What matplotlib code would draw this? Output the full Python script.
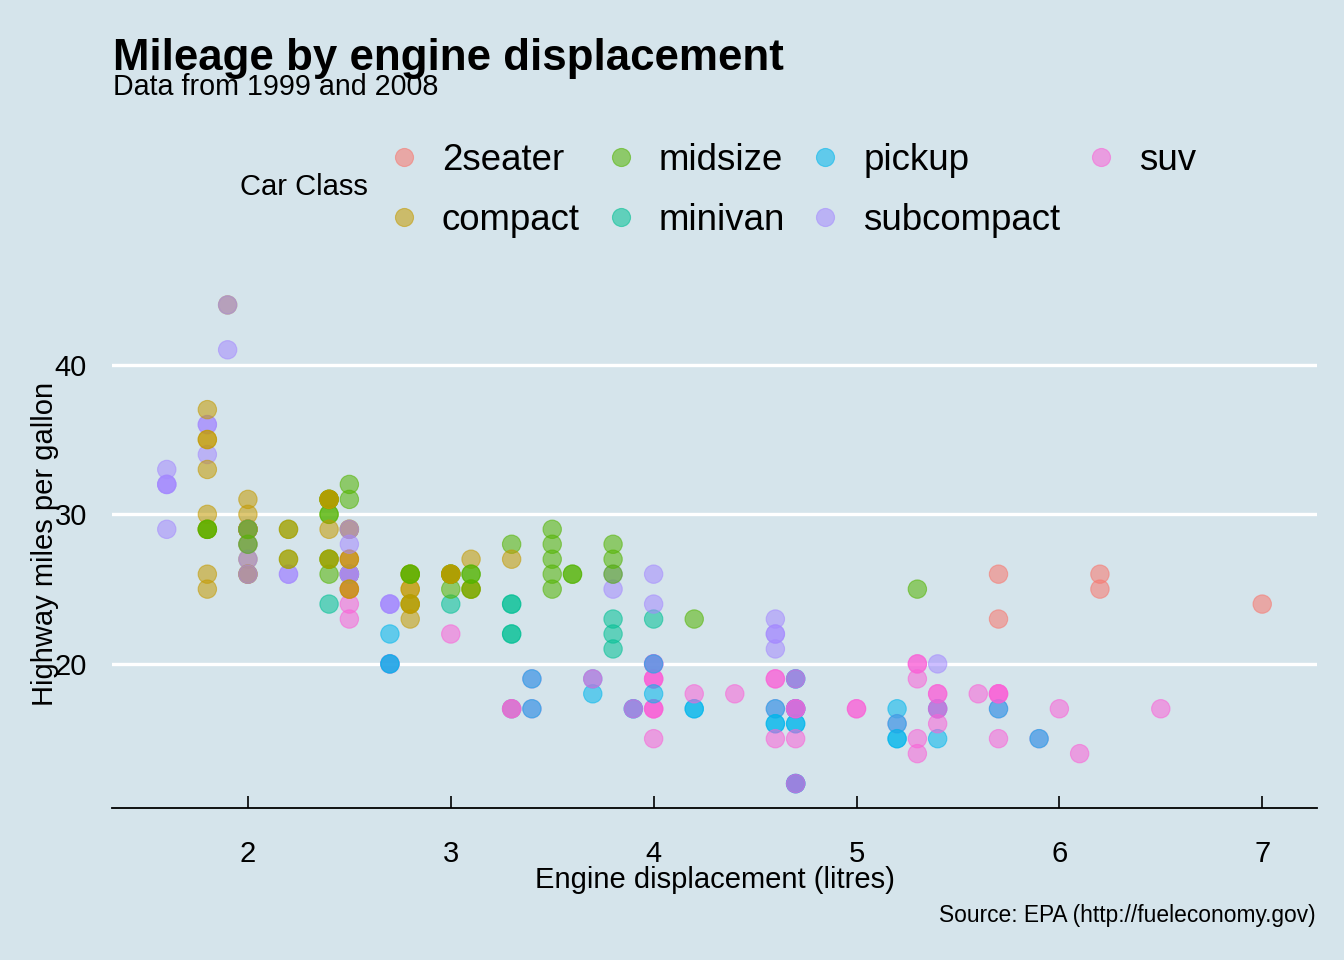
import numpy as np
import matplotlib
matplotlib.use('Agg')
import matplotlib.pyplot as plt
from matplotlib.lines import Line2D

plt.rcParams['font.family'] = ['Liberation Sans', 'DejaVu Sans']

## mpg data (displ, hwy, class), in row order
displ = [1.8, 1.8, 2.0, 2.0, 2.8, 2.8, 3.1, 1.8, 1.8, 2.0, 2.0, 2.8, 2.8, 3.1, 3.1,
         2.8, 3.1, 4.2,
         5.3, 5.3, 5.3, 5.7, 6.0,
         5.7, 5.7, 6.2, 6.2, 7.0,
         5.3, 5.3, 5.7, 6.5,
         2.4, 2.4, 3.1, 3.5, 3.6,
         2.4, 3.0, 3.3, 3.3, 3.3, 3.3, 3.3, 3.8, 3.8, 3.8, 4.0,
         3.7, 3.7, 3.9, 3.9, 4.7, 4.7, 4.7, 5.2, 5.2,
         3.9, 4.7, 4.7, 4.7, 5.2, 5.7, 5.9,
         4.7, 4.7, 4.7, 4.7, 4.7, 4.7, 5.2, 5.2, 5.7, 5.9,
         4.6, 5.4, 5.4, 4.0, 4.0, 4.0, 4.0, 4.6, 5.0,
         4.2, 4.2, 4.6, 4.6, 4.6, 5.4, 5.4,
         3.8, 3.8, 4.0, 4.0, 4.6, 4.6, 4.6, 4.6, 5.4, 1.6, 1.6, 1.6, 1.6, 1.6, 1.8, 1.8, 1.8, 2.0,
         2.4, 2.4, 2.4, 2.4, 2.5, 2.5, 3.3,
         2.0, 2.0, 2.0, 2.0, 2.7, 2.7, 2.7,
         3.0, 3.7, 4.0, 4.7, 4.7, 4.7, 5.7, 6.1, 4.0, 4.2, 4.4, 4.6, 5.4, 5.4, 5.4, 4.0, 4.0, 4.6, 5.0,
         2.4, 2.4,
         2.5, 2.5, 3.5, 3.5, 3.0, 3.0, 3.5,
         3.3, 3.3, 4.0, 5.6,
         3.1, 3.8, 3.8, 3.8, 5.3,
         2.5, 2.5, 2.5, 2.5, 2.5, 2.5,
         2.2, 2.2, 2.5, 2.5,
         2.5, 2.5, 2.5, 2.5,
         2.7, 2.7, 3.4, 3.4, 4.0, 4.7,
         2.2, 2.2, 2.4, 2.4, 3.0, 3.0, 3.5,
         2.2, 2.2, 2.4, 2.4, 3.0, 3.0, 3.3, 1.8, 1.8, 1.8, 1.8, 1.8,
         4.7, 5.7,
         2.7, 2.7, 2.7, 3.4, 3.4, 4.0, 4.0,
         2.0, 2.0, 2.0, 2.0, 2.8, 1.9, 2.0, 2.0, 2.0, 2.0, 2.5, 2.5, 2.8, 2.8,
         1.9, 1.9, 2.0, 2.0, 2.5, 2.5,
         1.8, 1.8, 2.0, 2.0, 2.8, 2.8, 3.6]

hwy = [29, 29, 31, 30, 26, 26, 27, 26, 25, 28, 27, 25, 25, 25, 25,
       24, 25, 23,
       20, 15, 20, 17, 17,
       26, 23, 26, 25, 24,
       19, 14, 15, 17,
       27, 30, 26, 29, 26,
       24, 24, 22, 22, 24, 24, 17, 22, 21, 23, 23,
       19, 18, 17, 17, 19, 19, 12, 17, 15,
       17, 17, 12, 17, 16, 18, 15,
       16, 12, 17, 17, 16, 12, 15, 16, 17, 15,
       17, 17, 18, 17, 19, 17, 19, 19, 17,
       17, 17, 16, 16, 17, 15, 17,
       26, 25, 26, 24, 21, 22, 23, 22, 20, 33, 32, 32, 29, 32, 34, 36, 36, 29,
       26, 27, 30, 31, 26, 26, 28,
       26, 29, 28, 27, 24, 24, 24,
       22, 19, 20, 17, 12, 19, 18, 14, 15, 18, 18, 15, 17, 16, 18, 17, 19, 19, 17,
       29, 27,
       31, 32, 27, 26, 26, 25, 25,
       17, 17, 20, 18,
       26, 26, 27, 28, 25,
       25, 24, 27, 25, 26, 23,
       26, 26, 26, 26,
       25, 27, 25, 27,
       20, 20, 19, 17, 20, 17,
       29, 27, 31, 31, 26, 26, 28,
       27, 29, 31, 31, 26, 26, 27, 30, 33, 35, 37, 35,
       15, 18,
       20, 20, 22, 17, 19, 18, 20,
       29, 26, 29, 29, 24, 44, 29, 26, 29, 29, 29, 29, 23, 24,
       44, 41, 29, 26, 28, 29,
       29, 29, 28, 29, 26, 26, 26]

car_class = (['compact'] * 15 + ['midsize'] * 3 + ['suv'] * 5 + ['2seater'] * 5
             + ['suv'] * 4 + ['midsize'] * 5 + ['minivan'] * 11 + ['pickup'] * 9
             + ['suv'] * 7 + ['pickup'] * 10 + ['suv'] * 9 + ['pickup'] * 7
             + ['subcompact'] * 18 + ['midsize'] * 7 + ['subcompact'] * 7
             + ['suv'] * 19 + ['compact'] * 2 + ['midsize'] * 7 + ['suv'] * 4
             + ['midsize'] * 5 + ['suv'] * 6 + ['subcompact'] * 4 + ['compact'] * 4
             + ['suv'] * 6 + ['midsize'] * 7 + ['compact'] * 12 + ['suv'] * 2
             + ['pickup'] * 7 + ['compact'] * 14 + ['subcompact'] * 6 + ['midsize'] * 7)

classes = ['2seater', 'compact', 'midsize', 'minivan', 'pickup', 'subcompact', 'suv']
palette = ['#F8766D', '#C49A00', '#53B400', '#00C094', '#00B6EB', '#A58AFF', '#FB61D7']
col_of = dict(zip(classes, palette))

x_ticks = [2, 3, 4, 5, 6, 7]
y_ticks = [20, 30, 40]

bg = '#d5e4eb'
alpha = 0.55

fig = plt.figure(figsize=(13.44, 9.6), dpi=100, facecolor=bg)
ax = fig.add_axes([112 / 1344, 1 - 807.5 / 960, 1205 / 1344, 526.5 / 960])
ax.set_facecolor(bg)

cols = [col_of[c] for c in car_class]
ax.scatter(displ, hwy, s=175, c=cols, edgecolors=cols, linewidths=0.8,
           alpha=alpha, zorder=3)

## ggplot-like 5% expansion
xr = max(displ) - min(displ)
yr = max(hwy) - min(hwy)
ax.set_xlim(min(displ) - 0.05 * xr, max(displ) + 0.05 * xr)
ax.set_ylim(min(hwy) - 0.05 * yr, max(hwy) + 0.05 * yr)

ax.set_xticks(x_ticks)
ax.set_yticks(y_ticks)
ax.tick_params(axis='x', direction='in', length=8.6, width=1.2, color='black',
               labelsize=21, pad=23.5)
ax.tick_params(axis='y', length=0, labelsize=21, pad=18)
ax.yaxis.grid(True, color='white', linewidth=2.4)
ax.set_axisbelow(True)
for side in ['top', 'right', 'left']:
    ax.spines[side].set_visible(False)
ax.spines['bottom'].set_color('black')
ax.spines['bottom'].set_linewidth(1.3)

ax.set_xlabel('Engine displacement (litres)', fontsize=21)
ax.xaxis.set_label_coords(0.5, -0.1115)
ax.set_ylabel('Highway miles per gallon', fontsize=21)
ax.yaxis.set_label_coords(-0.044, 0.5)

## titles
fig.text(113 / 1344, 1 - 70 / 960, 'Mileage by engine displacement',
         fontsize=31.6, fontweight='bold', va='baseline', ha='left')
fig.text(113 / 1344, 1 - 95 / 960, 'Data from 1999 and 2008',
         fontsize=20.6, va='baseline', ha='left')
fig.text(1316 / 1344, 1 - 922 / 960, 'Source: EPA (http://fueleconomy.gov)',
         fontsize=16.4, va='baseline', ha='right')

## legend
handles = [Line2D([], [], marker='o', linestyle='', markersize=13,
                  markerfacecolor=c, markeredgecolor=c, markeredgewidth=0.8,
                  alpha=alpha) for c in palette]
fig.legend(handles, classes, ncol=4, loc='center left',
           bbox_to_anchor=(395 / 1344, 1 - 190.5 / 960), frameon=False,
           fontsize=26.4, handlelength=0.5, handletextpad=0.78,
           columnspacing=0.86, labelspacing=0.68, borderpad=0, borderaxespad=0)
fig.text(240 / 1344, 1 - 187 / 960, 'Car Class', fontsize=21, va='center', ha='left')

fig.savefig('out.png', dpi=100, facecolor=bg)
